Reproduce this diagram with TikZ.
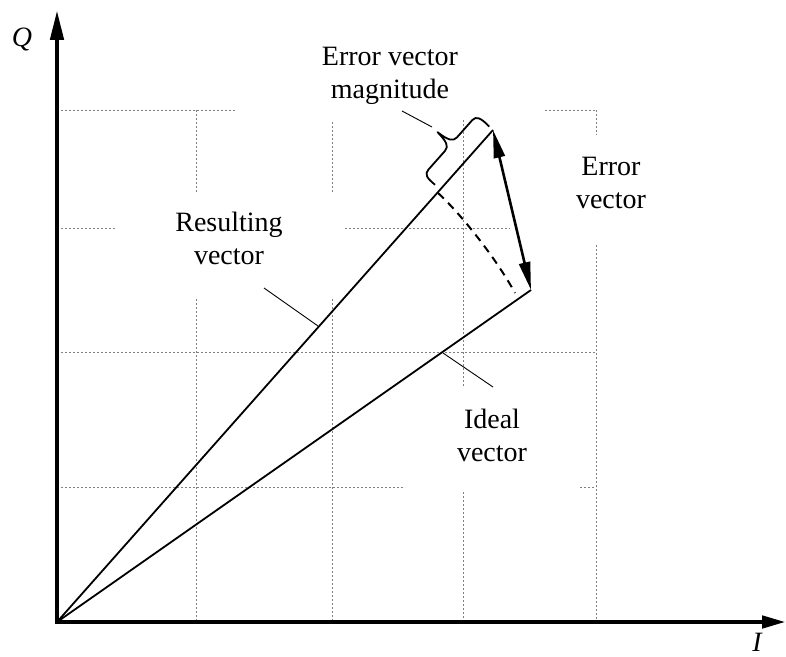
\documentclass[tikz,border=0pt]{standalone}
\usepackage{fontspec}
\setmainfont{Liberation Serif}
\usetikzlibrary{arrows.meta}

\begin{document}
\begin{tikzpicture}[x=1pt,y=1pt,
    grid/.style={gray, line width=0.7pt, dash pattern=on 2pt off 2pt},
    vec/.style={line width=1.8pt},
    leader/.style={line width=0.9pt},
    lbl/.style={font=\fontsize{28}{33}\selectfont, align=center}]
    \useasboundingbox (-57,-34) rectangle (729,622);
    \draw[grid] (139,512)--(139,430) (139,323)--(139,0);
    \draw[grid] (275,500)--(275,430) (275,323)--(275,0);
    \draw[grid] (406,502)--(406,235) (406,130)--(406,0);
    \draw[grid] (539,512)--(539,487) (539,377)--(539,0);
    \draw[grid] (0,512)--(179,512) (488,512)--(539,512);
    \draw[grid] (0,394)--(58,394) (288,394)--(453,394);
    \draw[grid] (0,270)--(539,270);
    \draw[grid] (0,135)--(348,135) (523,135)--(539,135);
    \coordinate (O) at (0,0);
    \coordinate (Qend) at (0,612);
    \coordinate (Iend) at (729,0);
    \coordinate (R) at (436,492);
    \coordinate (D) at (474,332);
    \coordinate (S) at (381,429);
    \coordinate (E) at (458,329);
    \draw[line width=4.5pt, {Triangle[length=30pt,width=13pt]}-{Triangle[length=24pt,width=12pt]}] (Qend) -- (O) -- (Iend);
    \draw[vec] (O) -- (R);
    \draw[vec] (O) -- (D);
    \draw[line width=2.6pt, {Triangle[length=28pt,width=11pt]}-{Triangle[length=28pt,width=11pt]}] (R) -- (D);
    \draw[line width=2pt, dash pattern=on 8pt off 6pt] (S) .. controls (403,409) and (439,364) .. (E);
    \begin{scope}[shift={(O)}, rotate=48.46]
        \draw[vec, line join=round] (578,7) .. controls (577.5,18) and (579,22) .. (585,22) -- (610,22)
            .. controls (616,22) and (618,27) .. (619,40)
            .. controls (620,27) and (622,22) .. (628,22) -- (651,22)
            .. controls (657,22) and (658.5,17) .. (657.5,5);
    \end{scope}
    \node[lbl] (maglbl) at (333,546) {Error vector\\magnitude};
    \node[lbl] (errlbl) at (554,439) {Error\\vector};
    \node[lbl] (reslbl) at (172,384) {Resulting\\vector};
    \node[lbl] (idlbl) at (435,187) {Ideal\\vector};
    \node[lbl, font=\fontsize{28}{33}\selectfont\itshape] (qlbl) at (-35,582) {Q};
    \node[lbl, font=\fontsize{28}{33}\selectfont\itshape, anchor=base] (ilbl) at (700,-29) {I};
    \coordinate (magtip) at (375,495);
    \coordinate (magend) at (345,511);
    \coordinate (resfoot) at (261,296);
    \coordinate (resend) at (207,334);
    \coordinate (idfoot) at (386,269);
    \coordinate (idend) at (436,235);
    \draw[leader] (magtip) -- (magend);
    \draw[leader] (resfoot) -- (resend);
    \draw[leader] (idfoot) -- (idend);
\end{tikzpicture}
\end{document}
